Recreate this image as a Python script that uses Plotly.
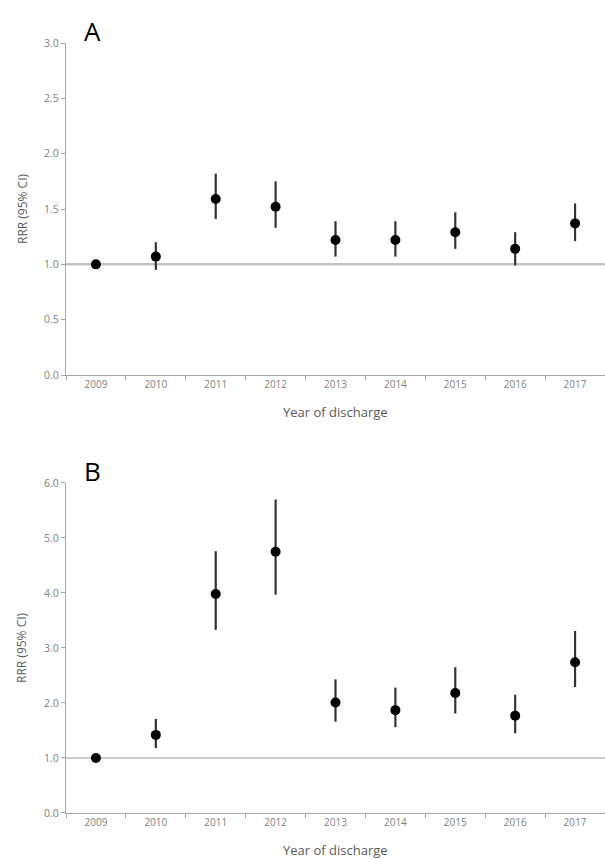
import plotly.graph_objects as go
from plotly.subplots import make_subplots

years = ["2009", "2010", "2011", "2012", "2013", "2014", "2015", "2016", "2017"]

a_rrr = [1.00, 1.07, 1.59, 1.52, 1.22, 1.22, 1.29, 1.14, 1.37]
a_hi = [1.00, 1.20, 1.82, 1.75, 1.39, 1.39, 1.47, 1.29, 1.55]
a_lo = [1.00, 0.95, 1.41, 1.33, 1.07, 1.07, 1.14, 0.99, 1.21]

b_rrr = [1.00, 1.42, 3.98, 4.75, 2.01, 1.87, 2.18, 1.77, 2.74]
b_hi = [1.00, 1.71, 4.76, 5.70, 2.43, 2.28, 2.65, 2.15, 3.31]
b_lo = [1.00, 1.18, 3.33, 3.97, 1.66, 1.56, 1.81, 1.45, 2.29]

a_ticks = [0.0, 0.5, 1.0, 1.5, 2.0, 2.5, 3.0]
b_ticks = [0.0, 1.0, 2.0, 3.0, 4.0, 5.0, 6.0]
ref_value = 1.0

fig = make_subplots(rows=2, cols=1)

FONT = "Open Sans"
AXC = "#a6a6a6"
TICKC = "#7f7f7f"
TITC = "#595959"

A_DOM = [0.5688, 1.0]
B_DOM = [0.0, 0.4286]


def add_panel(row, vals, hi, lo):
    fig.add_trace(go.Scatter(
        x=years, y=vals, mode="markers",
        marker=dict(color="black", size=10),
        error_y=dict(type="data", symmetric=False,
                     array=[h - v for h, v in zip(hi, vals)],
                     arrayminus=[v - l for v, l in zip(vals, lo)],
                     color="#333333", thickness=2.2, width=0),
        showlegend=False,
    ), row=row, col=1)


add_panel(1, a_rrr, a_hi, a_lo)
add_panel(2, b_rrr, b_hi, b_lo)

fig.add_shape(type="line", xref="x domain", yref="y", x0=0, x1=1, y0=ref_value, y1=ref_value,
              line=dict(color="#c4c4c4", width=2.5), layer="below")
fig.add_shape(type="line", xref="x2 domain", yref="y2", x0=0, x1=1, y0=ref_value, y1=ref_value,
              line=dict(color="#9a9a9a", width=1.2), layer="below")

xcommon = dict(
    type="category", range=[-0.5, 8.5], tickson="boundaries",
    showline=True, linecolor=AXC, linewidth=1.2,
    ticks="outside", ticklen=4, tickcolor=AXC,
    showgrid=False, zeroline=False, automargin=False,
    tickfont=dict(family=FONT, size=10, color=TICKC),
)
fig.update_xaxes(**xcommon)

ycommon = dict(
    showline=True, linecolor=AXC, linewidth=1.2,
    ticks="outside", ticklen=4, tickcolor=AXC,
    showgrid=False, zeroline=False, automargin=False,
    tickfont=dict(family=FONT, size=10.5, color=TICKC),
)
fig.update_yaxes(**ycommon)
fig.update_yaxes(range=[0, 3.0], tickvals=a_ticks, ticktext=[f"{t:.1f}" for t in a_ticks],
                 domain=A_DOM, row=1, col=1)
fig.update_yaxes(range=[0, 6.0], tickvals=b_ticks, ticktext=[f"{t:.1f}" for t in b_ticks],
                 domain=B_DOM, row=2, col=1)

for dom, letter in ((A_DOM, "A"), (B_DOM, "B")):
    fig.add_annotation(text=letter, xref="paper", yref="paper", x=0.03, y=dom[1], xanchor="left",
                       yanchor="bottom", showarrow=False, yshift=-8,
                       font=dict(family=FONT, size=26, color="black"))
    fig.add_annotation(text="RRR (95% CI)", xref="paper", yref="paper", x=0, y=(dom[0] + dom[1]) / 2,
                       xanchor="center", yanchor="middle", xshift=-44, textangle=-90, showarrow=False,
                       font=dict(family=FONT, size=12, color=TITC))
    fig.add_annotation(text="Year of discharge", xref="paper", yref="paper", x=0.5, y=dom[0],
                       xanchor="center", yanchor="middle", yshift=-37, showarrow=False,
                       font=dict(family=FONT, size=13, color=TITC))

fig.update_layout(
    width=605, height=859,
    margin=dict(l=66, r=0, t=43, b=46),
    plot_bgcolor="white", paper_bgcolor="white",
    font=dict(family=FONT),
)

fig.write_html(
    "out.html",
    config={"displayModeBar": False},
    post_script="document.body.style.margin='0';document.documentElement.style.overflow='hidden';",
)
